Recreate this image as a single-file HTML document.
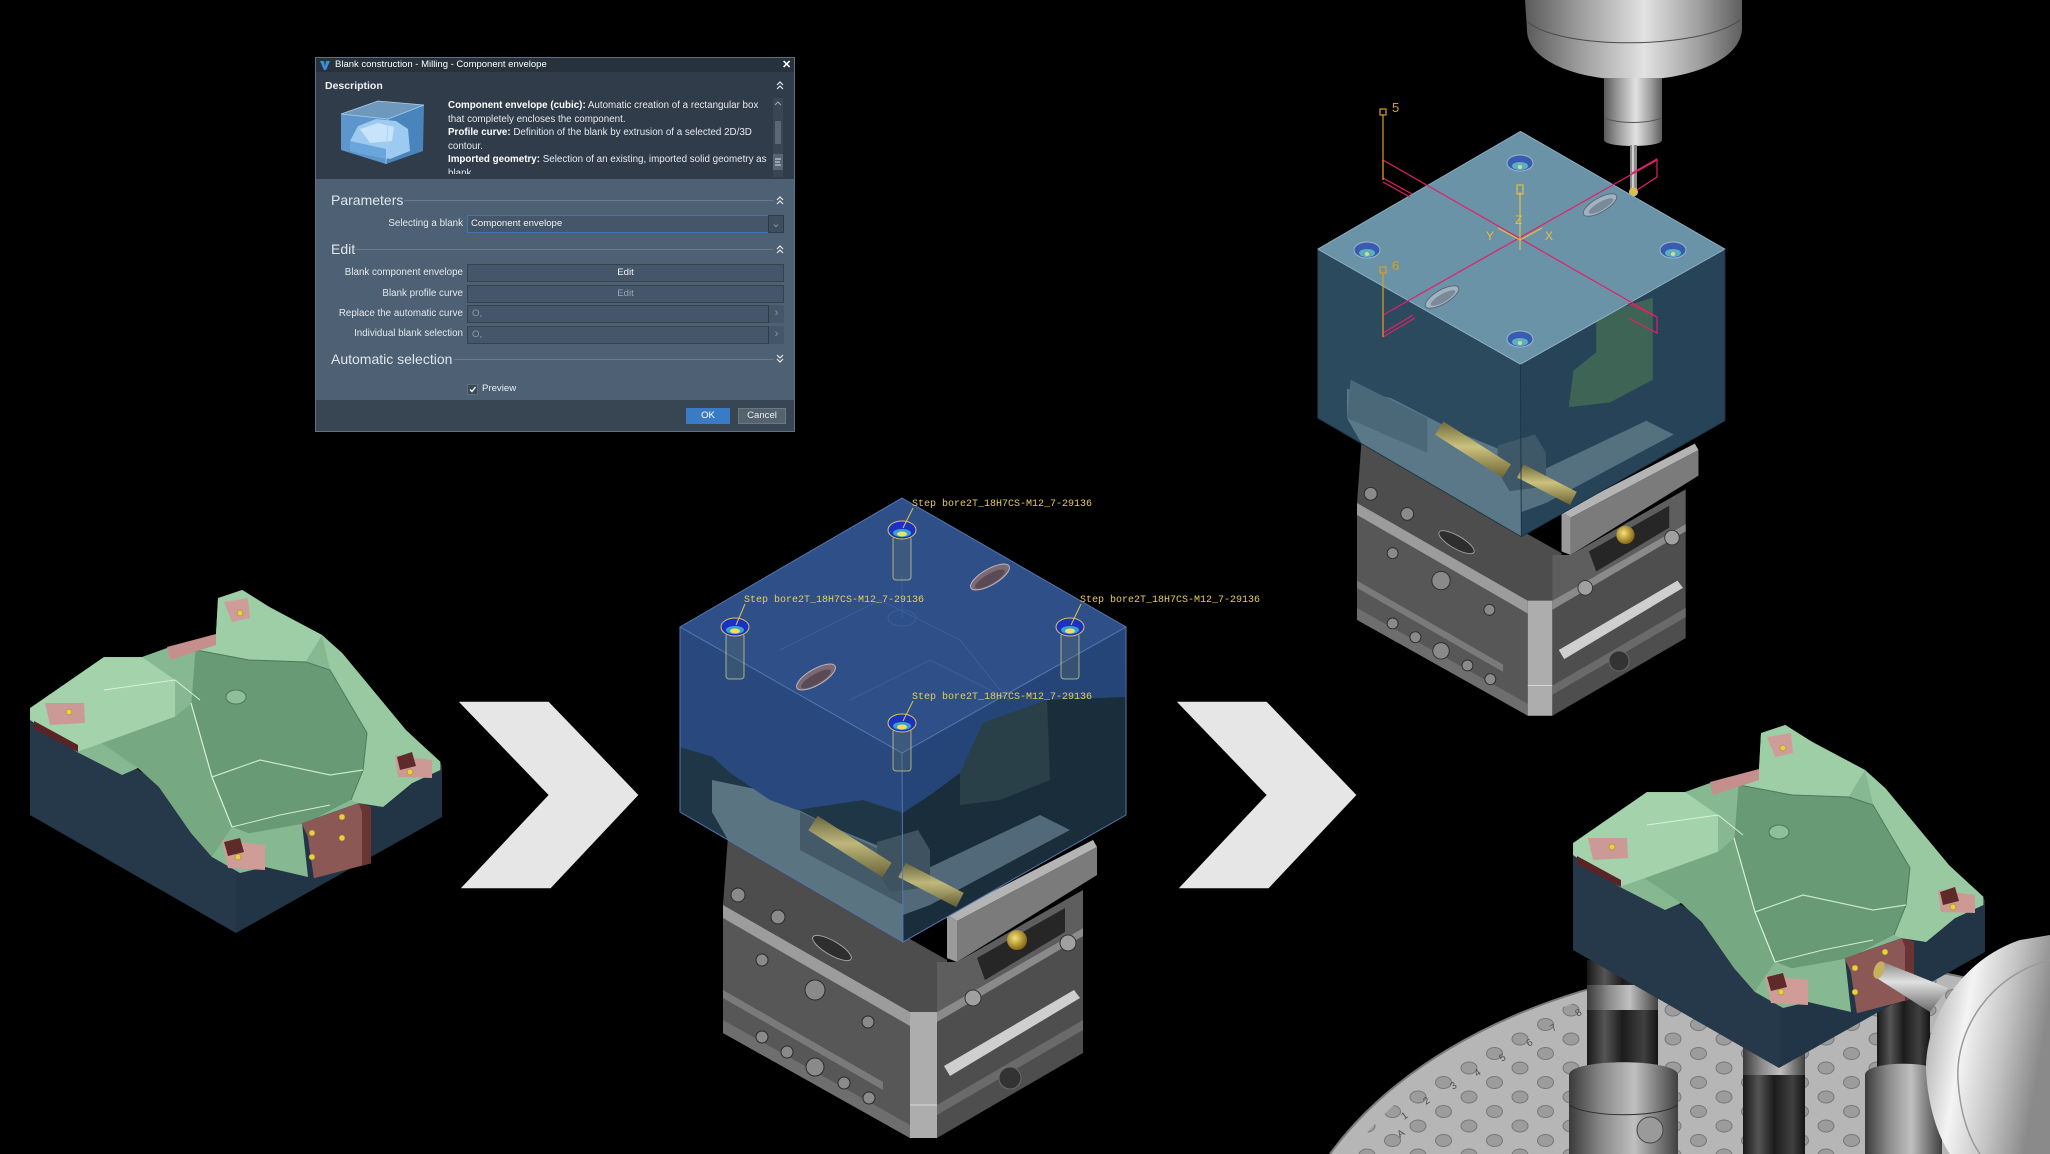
<!DOCTYPE html>
<html><head><meta charset="utf-8">
<style>
html,body{margin:0;padding:0;background:#000;}
body{width:2050px;height:1154px;position:relative;overflow:hidden;font-family:"Liberation Sans",sans-serif;}
svg.main{position:absolute;left:0;top:0;display:block;}
.dlg{position:absolute;left:315px;top:57px;width:480px;height:375px;background:#4e6073;border:1px solid #5f7082;box-sizing:border-box;overflow:hidden;}
.dlg div{position:absolute;white-space:nowrap;}
.tb{left:0;top:0;width:478px;height:14px;background:#28323d;}
.tt{left:19px;top:0;line-height:14px;font-size:9.5px;color:#fff;}
.x{left:466px;top:0;line-height:14px;font-size:11px;color:#fff;font-weight:bold;}
.desc{left:0;top:14px;width:478px;height:107px;background:#303c49;}
.dh{left:9px;top:21px;line-height:14px;font-size:10.5px;font-weight:bold;color:#f0f2f4;}
.dt{left:132px;top:41px;width:322px;height:75px;overflow:hidden;font-size:9.8px;line-height:13.5px;color:#e6eaee;}
.dt b{color:#fff;}
.sb{left:457px;top:40px;width:10px;height:79px;background:#3a4654;}
.th{left:459px;top:63px;width:6px;height:23px;background:#5a6775;}
.hd{left:15px;font-size:14px;line-height:16px;color:#dfe6ec;}
.ln{height:1px;background:#6b7b8b;}
.lb{left:0;width:147px;text-align:right;font-size:9.8px;line-height:14px;color:#e4e9ee;}
.bx{left:151px;width:317px;height:18px;background:#45556a;border:1px solid #36434f;box-sizing:border-box;font-size:9.6px;line-height:16px;}
.ar{left:452px;width:16px;height:18px;border-left:1px solid #2e3a45;box-sizing:border-box;background:#45556a;color:#8c9aa8;font-size:11px;line-height:16px;text-align:center;}
.ft{left:0;top:342px;width:478px;height:31px;background:#384654;}
.btn{top:350px;height:16px;font-size:9.6px;line-height:16px;text-align:center;color:#fff;}
</style></head><body>
<svg class="main" width="2050" height="1154" viewBox="0 0 2050 1154" xmlns="http://www.w3.org/2000/svg">
<defs>
 <radialGradient id="gold" cx="0.4" cy="0.4" r="0.6"><stop offset="0" stop-color="#f6e27a"/><stop offset="1" stop-color="#8a6a12"/></radialGradient>
 <linearGradient id="gcyl" x1="0" y1="0" x2="0" y2="1"><stop offset="0" stop-color="#706a3c"/><stop offset="0.45" stop-color="#cbc27e"/><stop offset="1" stop-color="#6e6434"/></linearGradient>
 <linearGradient id="silver" x1="0" y1="0" x2="1" y2="0"><stop offset="0" stop-color="#5a5a5a"/><stop offset="0.25" stop-color="#9c9c9c"/><stop offset="0.55" stop-color="#e2e2e2"/><stop offset="0.8" stop-color="#a0a0a0"/><stop offset="1" stop-color="#5e5e5e"/></linearGradient>
 <linearGradient id="postd" x1="0" y1="0" x2="1" y2="0"><stop offset="0" stop-color="#181818"/><stop offset="0.25" stop-color="#555"/><stop offset="0.5" stop-color="#1c1c1c"/><stop offset="0.8" stop-color="#404040"/><stop offset="1" stop-color="#141414"/></linearGradient>
 <linearGradient id="postl" x1="0" y1="0" x2="1" y2="0"><stop offset="0" stop-color="#3a3a3a"/><stop offset="0.3" stop-color="#8a8a8a"/><stop offset="0.6" stop-color="#c0c0c0"/><stop offset="1" stop-color="#404040"/></linearGradient>
 <linearGradient id="disc" x1="0" y1="0" x2="1" y2="0.3"><stop offset="0" stop-color="#9a9a9a"/><stop offset="0.4" stop-color="#f4f4f4"/><stop offset="0.7" stop-color="#c4c4c4"/><stop offset="1" stop-color="#8a8a8a"/></linearGradient>
 <linearGradient id="probe" x1="0" y1="0" x2="0" y2="1"><stop offset="0" stop-color="#8a8a8a"/><stop offset="0.4" stop-color="#e0e0e0"/><stop offset="1" stop-color="#6a6a6a"/></linearGradient>
 <pattern id="holes" patternUnits="userSpaceOnUse" x="1508" y="1061" width="51" height="29">
  <ellipse cx="12" cy="7" rx="8" ry="6" fill="#9c9c9c" stroke="#777" stroke-width="1"/>
  <ellipse cx="37.5" cy="21.5" rx="8" ry="6" fill="#9c9c9c" stroke="#777" stroke-width="1"/>
 </pattern>
 <clipPath id="tclip"><path d="M1350,1154 A500,325 0 0 1 2050,1010 L2050,1154 Z"/></clipPath>

 <g id="gp">
  <polygon points="30,708 30,815 236,933 236,826" fill="#25394a"/>
  <polygon points="236,826 236,933 442,817 442,765 405,730" fill="#213546"/>
  <polygon points="30,708 104,657 142,657 167,648 216,635 218,598 242,590 269,607 322,635 342,653 406,730 440,762 440,770 412,783 383,807 359,803 302,823 308,877 265,867 240,873 212,857 191,833 159,787 138,768 122,775 77,752 30,720" fill="#86b892"/>
  <polygon points="30.2,708.3 103.7,657.3 142.4,657.3 175.1,680 175.1,716.7 101.6,743.3 77.1,751.7 30.2,720" fill="#a3d2ab"/>
  <polygon points="101.6,743.3 175.1,716.7 191.4,703.3 211.8,776.7 232.2,826.7 211.8,856.7 191.4,833.3 158.8,786.7 138.4,768.3" fill="#76a882"/>
  <polygon points="322,635 342.4,653.3 405.7,730 440.4,761.7 440.4,770 411.8,783.3 383.3,806.7 358.8,803.3 350.6,800 362.9,770 366.9,733.3 330.2,670" fill="#98c9a1"/>
  <polygon points="195.5,650 248.6,660 305.7,661.7 330.2,670 366.9,733.3 362.9,770 350.6,800 305.7,823.3 248.6,833.3 232.2,826.7 211.8,776.7 191.4,703.3" fill="#679a75"/>
  <polygon points="215.9,635 218,598.3 242.4,590 269,606.7 322,635 305.7,661.7 248.6,660 195.5,650" fill="#9dcea6"/>
  <polyline points="191,703 212,777 232,827" fill="none" stroke="#d6f0da" stroke-width="1.2"/>
  <polyline points="196,650 249,660 306,662 330,670 367,733 363,770 351,800" fill="none" stroke="#4e7a5c" stroke-width="1"/>
  <polyline points="212,777 260,760 330,775 363,770" fill="none" stroke="#c8e8cc" stroke-width="1.2"/>
  <polyline points="232,827 280,815 330,805" fill="none" stroke="#d0ecd4" stroke-width="1"/>
  <polyline points="104,690 175,680 200,700" fill="none" stroke="#d6f0da" stroke-width="1"/>
  <polygon points="224,602 248,598 250,618 232,622" fill="#cf9d99"/>
  <polygon points="167,647 216,634 216,645 170,660" fill="#c48f8c"/>
  <polygon points="45,703 84,703 85,723 50,725" fill="#cc9a96"/>
  <polygon points="34,721 78,745 78,752 34,729" fill="#5a2426"/>
  <polygon points="395,755 432,760 432,778 398,777" fill="#cd9995"/>
  <polygon points="397,757 412,752 416,766 400,770" fill="#5e2a2a"/>
  <polygon points="222,840 265,845 265,870 228,868" fill="#cf9c98"/>
  <polygon points="224,842 240,838 244,852 228,856" fill="#5e2a2a"/>
  <polygon points="301.6,823.3 358.8,803.3 371,806.7 371,863.3 313.9,878.3 307.8,836.7" fill="#8c5856"/>
  <polygon points="358.8,803.3 371,806.7 371,863.3 362,866 362,812" fill="#6a3434"/>
  <ellipse cx="236" cy="697" rx="10" ry="7" fill="#8fbf99" stroke="#4d7a5a"/>
  <g fill="#e8d040" stroke="#8a7a20" stroke-width="0.5">
   <circle cx="240" cy="613" r="3"/><circle cx="69" cy="712" r="3"/><circle cx="410" cy="772" r="3"/>
   <circle cx="238" cy="857" r="3"/><circle cx="342" cy="817" r="3"/><circle cx="312" cy="833" r="3"/>
   <circle cx="342" cy="838" r="3"/><circle cx="312" cy="857" r="3"/>
  </g>
 </g>

 <g id="vise">
  <polygon points="728,836 947,960 947,1022 910,1012 723,905" fill="#4d4d4d"/>
  <polygon points="723,905 910,1012 910,1138 723,1033" fill="#575757"/>
  <polygon points="723,905 910,1012 910,1026 723,918" fill="#9c9c9c"/>
  <polygon points="723,990 883,1082 883,1090 723,998" fill="#7a7a7a"/>
  <polygon points="723,1020 910,1125 910,1138 723,1033" fill="#6e6e6e"/>
  <polygon points="910,1012 937,1012 937,1138 910,1138" fill="#adadad"/>
  <line x1="910" y1="1105" x2="937" y2="1105" stroke="#dadada"/>
  <polygon points="937,1012 1083,928 1083,1053 937,1138" fill="#4e4e4e"/>
  <polygon points="937,1012 1083,928 1083,936 937,1022" fill="#8a8a8a"/>
  <polygon points="937,1105 1083,1020 1083,1030 937,1115" fill="#6a6a6a"/>
  <polygon points="944,1066 1074,990 1080,998 950,1076" fill="#cfcfcf"/>
  <circle cx="1010" cy="1078" r="11" fill="#333" stroke="#6a6a6a"/>
  <polygon points="937,962 957,962 1083,890 1083,928 937,1012" fill="#5e5e5e"/>
  <polygon points="977,958 1065,908 1065,932 985,980" fill="#262626"/>
  <circle cx="1017" cy="940" r="10" fill="url(#gold)"/>
  <circle cx="973" cy="998" r="8" fill="#a0a0a0" stroke="#333"/>
  <circle cx="1068" cy="943" r="8" fill="#a0a0a0" stroke="#333"/>
  <polygon points="947,915 1093,840 1097,847 957,921" fill="#b4b4b4"/>
  <polygon points="957,921 1097,847 1097,875 957,962" fill="#7b7b7b"/>
  <polygon points="947,915 957,921 957,962 947,958" fill="#9b9b9b"/>
  <ellipse cx="832" cy="948" rx="22" ry="7" transform="rotate(30 832 948)" fill="#2e2e2e" stroke="#a0a0a0"/>
  <g fill="#8a8a8a" stroke="#2a2a2a" stroke-width="1">
   <circle cx="738" cy="895" r="7"/><circle cx="778" cy="917" r="7"/><circle cx="762" cy="960" r="6"/>
   <circle cx="815" cy="990" r="10"/><circle cx="868" cy="1022" r="6"/><circle cx="762" cy="1037" r="6"/>
   <circle cx="787" cy="1052" r="6"/><circle cx="815" cy="1067" r="9"/><circle cx="844" cy="1083" r="6"/>
   <circle cx="869" cy="1098" r="6"/>
  </g>
 </g>
</defs>

<rect width="2050" height="1154" fill="#000"/>

<use href="#gp"/>

<polygon points="458.8,701.7 548.6,701.7 638.4,795 550.6,888.3 460.8,888.3 548.6,795" fill="#e6e6e6"/>
<polygon points="458.8,701.7 548.6,701.7 638.4,795 550.6,888.3 460.8,888.3 548.6,795" fill="#e6e6e6" transform="translate(718 0)"/>

<use href="#vise"/>
<polygon points="680,627 902,753 903,942 680,812" fill="#1f3647"/>
<polygon points="902,753 1126,627 1126,815 903,942" fill="#192d3b"/>
<polygon points="712,780 760,790 830,826 903,856 903,942 728,840 712,812" fill="#5b7482"/>
<polygon points="800,812 880,850 903,860 903,905 800,850" fill="#445a68"/>
<polygon points="903,880 1040,815 1070,830 930,905 903,915" fill="#52697a"/>
<polygon points="960,773 983,723 1047,700 1050,780 1000,800 960,805" fill="#2a4048"/>
<polygon points="877,842 918,830 930,850 930,887 890,892 877,870" fill="#3e5260"/>
<polygon points="817.6,815.8 891.6,862.8 882.4,877.2 808.4,830.2" fill="url(#gcyl)" opacity="0.9"/>
<polygon points="905.7,862.9 963.7,892.9 956.3,907.1 898.3,877.1" fill="url(#gcyl)" opacity="0.9"/>
<polygon points="680,627 902,753 903,813 863,800 843,803 797,810 770,800 730,773 713,757 680,747" fill="#28487e"/>
<polygon points="902,753 1126,627 1125,697 1047,700 983,723 960,773 933,793 903,813" fill="#254579"/>
<polygon points="902,498 1126,627 902,753 680,627" fill="#2e4f88"/>
<g fill="none" stroke="#3f62a0" stroke-width="1" opacity="0.8">
 <polyline points="780,650 880,600 960,640 1000,690"/>
 <polyline points="850,700 930,660 1010,700"/>
 <ellipse cx="902" cy="618" rx="14" ry="8"/>
 <line x1="902" y1="575" x2="902" y2="618"/>
</g>
<g fill="none" stroke="#5478b0" stroke-width="1">
 <polygon points="902,498 1126,627 902,753 680,627"/>
 <polyline points="680,627 680,812 903,942 1126,815 1126,627"/>
 <line x1="902" y1="753" x2="903" y2="942"/>
</g>
<g>
 <ellipse cx="990" cy="577" rx="22" ry="8" transform="rotate(-30 990 577)" fill="#7a6a74" stroke="#c0b0b8"/>
 <ellipse cx="990" cy="579" rx="17" ry="5" transform="rotate(-30 990 579)" fill="#5a4a56"/>
 <ellipse cx="816" cy="677" rx="22" ry="8" transform="rotate(-30 816 677)" fill="#7a6a74" stroke="#c0b0b8"/>
 <ellipse cx="816" cy="679" rx="17" ry="5" transform="rotate(-30 816 679)" fill="#5a4a56"/>
</g>
<g>
 <g fill="#6a7a60" fill-opacity="0.25" stroke="#d8d890" stroke-opacity="0.7" stroke-width="1">
  <rect x="893" y="536" width="18" height="44" rx="3"/><rect x="726" y="633" width="18" height="46" rx="3"/>
  <rect x="1061" y="633" width="18" height="46" rx="3"/><rect x="893" y="729" width="18" height="42" rx="3"/>
 </g>
 <g stroke="#e0c050" stroke-width="1">
  <ellipse cx="902" cy="530" rx="14" ry="9" fill="#1a32c4"/>
  <ellipse cx="735" cy="627" rx="14" ry="9" fill="#1a32c4"/>
  <ellipse cx="1070" cy="627" rx="14" ry="9" fill="#1a32c4"/>
  <ellipse cx="902" cy="723" rx="14" ry="9" fill="#1a32c4"/>
 </g>
 <g fill="#3aa0d0">
  <ellipse cx="902" cy="533" rx="9" ry="4"/><ellipse cx="735" cy="630" rx="9" ry="4"/>
  <ellipse cx="1070" cy="630" rx="9" ry="4"/><ellipse cx="902" cy="726" rx="9" ry="4"/>
 </g>
 <g fill="#ece060">
  <ellipse cx="902" cy="534" rx="5" ry="2.5"/><ellipse cx="735" cy="631" rx="5" ry="2.5"/>
  <ellipse cx="1070" cy="631" rx="5" ry="2.5"/><ellipse cx="902" cy="727" rx="5" ry="2.5"/>
 </g>
</g>
<g stroke="#e0c050" stroke-width="1">
 <line x1="913" y1="508" x2="903" y2="528"/><line x1="745" y1="604" x2="736" y2="625"/>
 <line x1="1081" y1="604" x2="1071" y2="625"/><line x1="913" y1="701" x2="903" y2="721"/>
</g>
<g font-family="Liberation Mono, monospace" font-size="10" fill="#e8cc5a">
 <text x="912" y="506">Step bore2T_18H7CS-M12_7-29136</text>
 <text x="744" y="602">Step bore2T_18H7CS-M12_7-29136</text>
 <text x="1080" y="602">Step bore2T_18H7CS-M12_7-29136</text>
 <text x="912" y="699">Step bore2T_18H7CS-M12_7-29136</text>
</g>

<path d="M1525,0 L1742,0 L1742,28 C1742,60 1690,80 1633,80 C1575,80 1527,60 1527,30 Z" fill="url(#silver)"/>
<path d="M1528,22 C1560,50 1700,50 1740,20" fill="none" stroke="#4a4a4a" stroke-width="1"/>
<path d="M1604,78 L1662,78 L1662,140 C1662,148 1604,148 1604,140 Z" fill="url(#silver)"/>
<path d="M1604,118 C1620,124 1646,124 1662,118" fill="none" stroke="#555" stroke-width="1"/>
<rect x="1630" y="145" width="7" height="45" fill="#8c8c8c"/>
<rect x="1632" y="145" width="2" height="45" fill="#d0d0d0"/>
<circle cx="1633.5" cy="192" r="4.5" fill="#d8c050"/>

<g transform="matrix(0.913 0 0 0.913 696.9 -323.3)">
 <use href="#vise"/>
 <polygon points="680,627 902,753 903,942 680,812" fill="#2b4a5e"/>
 <polygon points="902,753 1126,627 1126,815 903,942" fill="#264357"/>
 <polygon points="712,780 760,790 830,826 903,856 903,942 728,840 712,812" fill="#5a7888"/>
 <polygon points="716,770 800,812 800,850 712,812" fill="#4a6878"/>
 <polygon points="903,880 1040,815 1070,830 930,905 903,915" fill="#55717f"/>
 <polygon points="877,842 918,830 930,850 930,887 890,892 877,870" fill="#3e5868"/>
 <polygon points="817.6,815.8 891.6,862.8 882.4,877.2 808.4,830.2" fill="url(#gcyl)"/>
 <polygon points="905.7,862.9 963.7,892.9 956.3,907.1 898.3,877.1" fill="url(#gcyl)"/>
 <polygon points="985,700 1047,680 1047,770 1000,795 955,800 960,760 985,740" fill="#3e6456"/>
 <polygon points="902,498 1126,627 902,753 680,627" fill="#6b93a8"/>
 <g fill="none" stroke="#8fb0c2" stroke-width="1">
  <polygon points="902,498 1126,627 902,753 680,627"/>
 </g>
 <g fill="none" stroke="#1c3444" stroke-width="1">
  <polyline points="680,627 680,812 903,942 1126,815 1126,627"/>
  <line x1="902" y1="753" x2="903" y2="942"/>
 </g>
</g>
<g stroke="#9ab8c8" stroke-width="1">
 <ellipse cx="1520" cy="163" rx="13" ry="8" fill="#3a5cb0"/><ellipse cx="1367" cy="250" rx="13" ry="8" fill="#3a5cb0"/>
 <ellipse cx="1673" cy="250" rx="13" ry="8" fill="#3a5cb0"/><ellipse cx="1520" cy="339" rx="13" ry="8" fill="#3a5cb0"/>
</g>
<g fill="#5ab0c0">
 <ellipse cx="1520" cy="166" rx="8" ry="4"/><ellipse cx="1367" cy="253" rx="8" ry="4"/>
 <ellipse cx="1673" cy="253" rx="8" ry="4"/><ellipse cx="1520" cy="342" rx="8" ry="4"/>
</g>
<g fill="#d8d890">
 <circle cx="1520" cy="167" r="2"/><circle cx="1367" cy="254" r="2"/><circle cx="1673" cy="254" r="2"/><circle cx="1520" cy="343" r="2"/>
</g>
<ellipse cx="1600" cy="205" rx="19" ry="7" transform="rotate(-30 1600 205)" fill="#a2b2c0" stroke="#5a6a78"/>
<ellipse cx="1601" cy="206" rx="14" ry="4" transform="rotate(-30 1601 206)" fill="#7a8a98"/>
<ellipse cx="1442" cy="297" rx="19" ry="7" transform="rotate(-30 1442 297)" fill="#a2b2c0" stroke="#5a6a78"/>
<ellipse cx="1443" cy="298" rx="14" ry="4" transform="rotate(-30 1443 298)" fill="#7a8a98"/>
<g stroke="#e0206a" stroke-width="1.2" fill="none">
 <line x1="1383" y1="160" x2="1657" y2="317"/>
 <line x1="1383" y1="315" x2="1657" y2="160"/>
 <line x1="1383" y1="160" x2="1383" y2="180"/>
 <line x1="1383" y1="178" x2="1412" y2="194"/><line x1="1383" y1="182" x2="1410" y2="197"/>
 <line x1="1383" y1="315" x2="1383" y2="337"/>
 <line x1="1383" y1="337" x2="1415" y2="318"/><line x1="1383" y1="333" x2="1413" y2="315"/>
 <polyline points="1632,173 1657,159 1657,177 1637,190"/>
 <polyline points="1628,303 1657,317 1657,333 1628,318"/>
</g>
<g stroke="#d9a020" stroke-width="1.2" fill="none">
 <line x1="1383" y1="115" x2="1383" y2="180"/><rect x="1380" y="109" width="6" height="6"/>
 <line x1="1383" y1="273" x2="1383" y2="337"/><rect x="1380" y="267" width="6" height="6"/>
</g>
<g stroke="#e0c040" stroke-width="1.2" fill="none">
 <line x1="1520" y1="192" x2="1520" y2="250"/><rect x="1517" y="185" width="6" height="9"/>
 <line x1="1520" y1="240" x2="1498" y2="228"/><line x1="1520" y1="240" x2="1542" y2="228"/>
</g>
<g font-family="Liberation Sans, sans-serif" font-size="13" fill="#d9a020">
 <text x="1392" y="112">5</text><text x="1392" y="270">6</text>
</g>
<g font-family="Liberation Sans, sans-serif" font-size="12" fill="#e0c040">
 <text x="1515" y="224">Z</text><text x="1486" y="240">Y</text><text x="1545" y="240">X</text>
</g>

<path d="M1330,1154 A520,340 0 0 1 2050,1002 L2050,1154 Z" fill="#b6b6b6"/>
<path d="M1330,1154 A520,340 0 0 1 2050,1002" fill="none" stroke="#7a7a7a" stroke-width="2"/>
<rect x="1300" y="900" width="750" height="254" fill="url(#holes)" clip-path="url(#tclip)"/>
<g font-family="Liberation Sans, sans-serif" font-size="10" fill="#505050">
 <text x="1400" y="1138" transform="rotate(-35 1400 1138)">A</text>
 <text x="1404" y="1120" transform="rotate(-35 1404 1120)">1</text>
 <text x="1426" y="1105" transform="rotate(-35 1426 1105)">2</text>
 <text x="1453" y="1090" transform="rotate(-35 1453 1090)">3</text>
 <text x="1477" y="1077" transform="rotate(-35 1477 1077)">4</text>
 <text x="1502" y="1062" transform="rotate(-35 1502 1062)">5</text>
 <text x="1529" y="1047" transform="rotate(-35 1529 1047)">6</text>
 <text x="1553" y="1032" transform="rotate(-35 1553 1032)">7</text>
 <text x="1578" y="1017" transform="rotate(-35 1578 1017)">8</text>
</g>
<rect x="1587" y="960" width="71" height="194" fill="url(#postd)"/>
<rect x="1587" y="985" width="71" height="25" fill="url(#postl)"/>
<path d="M1569,1075 C1569,1058 1678,1058 1678,1075 L1678,1154 L1569,1154 Z" fill="url(#postl)"/>
<path d="M1569,1105 C1590,1118 1658,1118 1678,1105" fill="none" stroke="#2a2a2a"/>
<circle cx="1650" cy="1130" r="13" fill="#9a9a9a" stroke="#444"/>
<rect x="1743" y="1040" width="62" height="114" fill="url(#postd)"/>
<rect x="1743" y="1045" width="62" height="30" fill="url(#postl)"/>
<rect x="1877" y="975" width="53" height="179" fill="url(#postd)"/>
<path d="M1865,1075 C1865,1060 1942,1060 1942,1075 L1942,1154 L1865,1154 Z" fill="url(#postl)"/>
<use href="#gp" transform="translate(1543 135)"/>
<polygon points="1883,962 1948,988 1930,1012 1875,977" fill="url(#probe)"/>
<ellipse cx="1879" cy="970" rx="5" ry="9" fill="#c8b060" transform="rotate(20 1879 970)"/>
<path d="M2050,935 L2020,940 C1960,960 1925,1020 1926,1070 C1928,1110 1940,1140 1950,1154 L2050,1154 Z" fill="url(#disc)"/>
<path d="M2050,960 C1990,975 1955,1030 1958,1080 C1960,1115 1970,1140 1980,1154" fill="none" stroke="#9a9a9a" stroke-width="1.5"/>
</svg>

<div class="dlg">
 <div class="tb"></div>
 <svg style="position:absolute;left:4px;top:3px" width="10" height="9" viewBox="0 0 10 9"><path d="M0,0 L4,0 L5,6 L6,0 L10,0 L6,9 L4,9 Z" fill="#3a8ee0"/></svg>
 <div class="tt">Blank construction - Milling - Component envelope</div>
 <div class="x">✕</div>
 <div class="desc"></div>
 <div class="dh">Description</div>
 <svg style="position:absolute;left:24px;top:40px" width="90" height="70" viewBox="342 97 90 70">
  <polygon points="343,113 380,100 426,104 390,118" fill="#7fb0da" opacity="0.8"/>
  <polygon points="343,113 390,118 388,163 343,149" fill="#5c96cc"/>
  <polygon points="390,118 426,104 425,150 388,163" fill="#4a84bc"/>
  <polygon points="352,140 360,125 378,118 398,120 410,128 412,150 392,158 360,152" fill="#9ccaf0"/>
  <polygon points="362,128 380,122 396,126 394,140 372,142" fill="#c8e4fa"/>
  <polygon points="352,140 388,148 388,158 352,150" fill="#6aa6dc"/>
  <g fill="none" stroke="#a8d0f0" stroke-width="0.8"><polygon points="343,113 380,100 426,104 390,118"/><line x1="390" y1="118" x2="388" y2="163"/></g>
 </svg>
 <div class="dt"><b>Component envelope (cubic):</b> Automatic creation of a rectangular box<br>that completely encloses the component.<br><b>Profile curve:</b> Definition of the blank by extrusion of a selected 2D/3D<br>contour.<br><b>Imported geometry:</b> Selection of an existing, imported solid geometry as<br>blank.</div>
 <div class="sb"></div>
 <div class="th"></div>
 <div style="left:457px;top:96px;width:10px;height:16px;background:#5a6573;"></div>
 <svg style="position:absolute;left:457px;top:40px" width="10" height="80" viewBox="0 0 10 80">
  <polyline points="2,7 5,4 8,7" fill="none" stroke="#9aa6b2" stroke-width="1"/>
  <g stroke="#dde" stroke-width="1"><line x1="2" y1="61" x2="8" y2="61"/><line x1="2" y1="64" x2="7" y2="64"/><line x1="2" y1="67" x2="8" y2="67"/></g>
 </svg>
 <svg style="position:absolute;left:459px;top:22px" width="10" height="10" viewBox="0 0 10 10"><g fill="none" stroke="#e6eaee" stroke-width="1.2"><polyline points="2,5 5,2 8,5"/><polyline points="2,9 5,6 8,9"/></g></svg>

 <div class="hd" style="top:134px;">Parameters</div>
 <div class="ln" style="left:88px;top:142px;width:369px;"></div>
 <svg style="position:absolute;left:459px;top:137px" width="10" height="10" viewBox="0 0 10 10"><g fill="none" stroke="#e6eaee" stroke-width="1.2"><polyline points="2,5 5,2 8,5"/><polyline points="2,9 5,6 8,9"/></g></svg>
 <div class="lb" style="top:159px;">Selecting a blank</div>
 <div class="bx" style="top:157px;border-color:#3d76b4;color:#f0f3f6;padding-left:3px;">Component envelope</div>
 <div class="ar" style="top:157px;border:1px solid #2e3a45;background:#3f4e5e;">⌄</div>

 <div class="hd" style="top:183px;">Edit</div>
 <div class="ln" style="left:38px;top:191px;width:419px;"></div>
 <svg style="position:absolute;left:459px;top:186px" width="10" height="10" viewBox="0 0 10 10"><g fill="none" stroke="#e6eaee" stroke-width="1.2"><polyline points="2,5 5,2 8,5"/><polyline points="2,9 5,6 8,9"/></g></svg>

 <div class="lb" style="top:208px;">Blank component envelope</div>
 <div class="bx" style="top:206px;text-align:center;color:#f2f4f6;">Edit</div>
 <div class="lb" style="top:229px;">Blank profile curve</div>
 <div class="bx" style="top:227px;text-align:center;color:#98a6b4;">Edit</div>
 <div class="lb" style="top:249px;">Replace the automatic curve</div>
 <div class="bx" style="top:247px;color:#8c9aa8;padding-left:4px;">O,</div>
 <div class="ar" style="top:247px;">›</div>
 <div class="lb" style="top:269px;">Individual blank selection</div>
 <div class="bx" style="top:268px;color:#8c9aa8;padding-left:4px;">O,</div>
 <div class="ar" style="top:268px;">›</div>

 <div class="hd" style="top:293px;">Automatic selection</div>
 <div class="ln" style="left:138px;top:301px;width:319px;"></div>
 <svg style="position:absolute;left:459px;top:296px" width="10" height="10" viewBox="0 0 10 10"><g fill="none" stroke="#e6eaee" stroke-width="1.2"><polyline points="2,1 5,4 8,1"/><polyline points="2,5 5,8 8,5"/></g></svg>

 <div style="left:151px;top:326px;width:11px;height:11px;background:#3a4857;border:1px solid #5e6e7e;box-sizing:border-box;"></div>
 <svg style="position:absolute;left:152px;top:327px" width="9" height="9" viewBox="0 0 9 9"><polyline points="2,4.5 4,6.5 7.5,2" fill="none" stroke="#fff" stroke-width="1.3"/></svg>
 <div style="left:166px;top:324px;font-size:9.6px;line-height:14px;color:#e8ecf0;">Preview</div>

 <div class="ft"></div>
 <div class="btn" style="left:370px;width:44px;background:#3a7bc6;">OK</div>
 <div class="btn" style="left:422px;width:48px;background:#55636f;border:1px solid #6a7886;box-sizing:border-box;line-height:14px;color:#e8ecf0;">Cancel</div>
</div>
</body></html>
